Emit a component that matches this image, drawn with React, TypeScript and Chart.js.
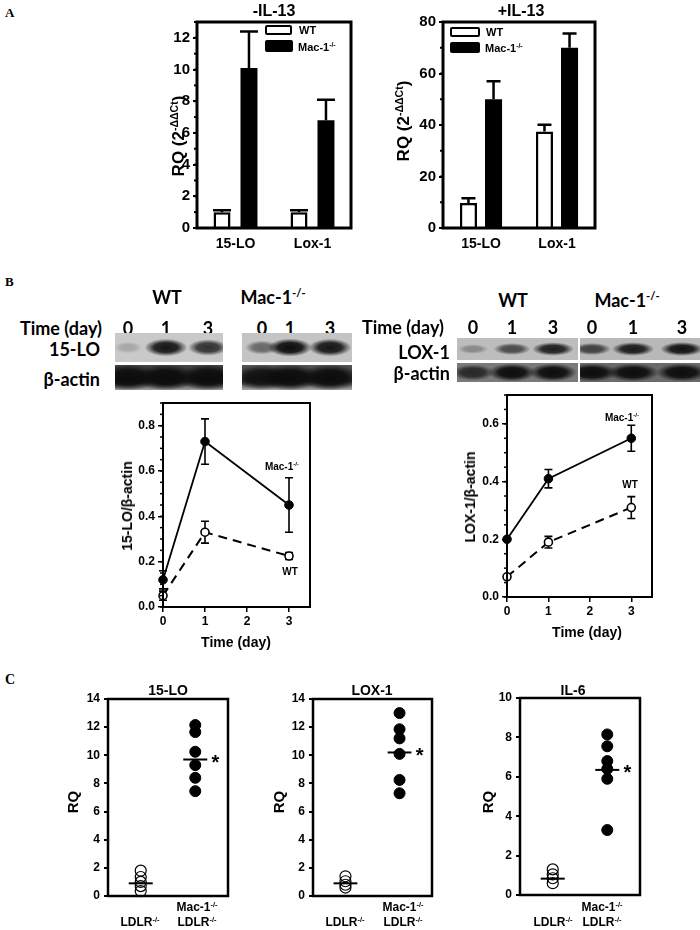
import React, { useEffect, useRef } from "react";
import { Chart, registerables } from "chart.js";

Chart.register(...registerables);

const FONT = "'Liberation Sans', Arial, sans-serif";
const BLOT_FONT = "Lato, 'Open Sans', sans-serif";
const SERIF = "'Liberation Serif', 'Times New Roman', serif";

// ---------- Panel A data ----------
const genes = ["15-LO", "Lox-1"];
const wtNoIL13 = [1.0, 1.0];
const wtNoIL13Err = [0.12, 0.12];
const macNoIL13 = [10.1, 6.8];
const macNoIL13Err = [2.3, 1.3];
const wtIL13 = [9.7, 37.5];
const wtIL13Err = [1.9, 2.6];
const macIL13 = [50, 70];
const macIL13Err = [7, 5.5];

// ---------- Panel B data ----------
const days = [0, 1, 3];
const blotDays = ["0", "1", "3"];
const wt15LO = [0.05, 0.33, 0.225];
const wt15LOErr = [0.02, 0.048, 0.015];
const mac15LO = [0.12, 0.73, 0.45];
const mac15LOErr = [0.04, 0.1, 0.12];
const wtLOX1 = [0.07, 0.19, 0.31];
const wtLOX1Err = [0, 0.02, 0.038];
const macLOX1 = [0.2, 0.41, 0.55];
const macLOX1Err = [0, 0.032, 0.045];
// blot band intensities (0..1) per lane
const blot15LO_WT = [0.18, 0.95, 0.8];
const blot15LO_Mac = [0.5, 1.0, 0.95];
const blotActin_15LO_WT = [1, 1, 1];
const blotActin_15LO_Mac = [0.9, 1, 1];
const blotLOX1_WT = [0.3, 0.65, 0.9];
const blotLOX1_Mac = [0.7, 0.92, 0.97];
const blotActin_LOX1_WT = [0.75, 1, 1];
const blotActin_LOX1_Mac = [1, 1, 1];

// ---------- Panel C data ----------
const c15LO_ldlr = [1.8, 1.35, 1.0, 0.7, 0.35];
const c15LO_mac = [12.15, 11.65, 10.25, 9.3, 8.4, 7.45];
const c15LO_mean = [0.9, 9.7];
const cLOX1_ldlr = [1.4, 1.05, 0.8, 0.6];
const cLOX1_mac = [13.0, 11.85, 11.2, 10.1, 8.25, 7.3];
const cLOX1_mean = [0.9, 10.2];
const cIL6_ldlr = [1.3, 1.05, 0.85, 0.6];
const cIL6_mac = [8.15, 7.55, 6.8, 6.4, 5.9, 3.3];
const cIL6_mean = [0.83, 6.35];

// ---------- plugins ----------
const framePlugin = {
  id: "frame",
  afterDraw(chart: any, _a: any, opts: any) {
    const { ctx, chartArea: a } = chart;
    ctx.save();
    ctx.strokeStyle = "#000";
    ctx.lineWidth = opts.lineWidth || 2;
    ctx.strokeRect(a.left, a.top, a.right - a.left, a.bottom - a.top);
    if (opts.minorStep) {
      const ys = chart.scales.y;
      ctx.lineWidth = opts.minorWidth || 1.5;
      const n = Math.round((ys.max - ys.min) / opts.minorStep);
      for (let i = 0; i <= n; i++) {
        const p = ys.getPixelForValue(ys.min + i * opts.minorStep);
        ctx.beginPath();
        ctx.moveTo(a.left - opts.minorLen, p);
        ctx.lineTo(a.left, p);
        ctx.stroke();
      }
    }
    ctx.restore();
  },
};

const errPlugin = {
  id: "errbars",
  beforeDatasetsDraw(chart: any, _a: any, opts: any) {
    const ctx = chart.ctx;
    ctx.save();
    ctx.strokeStyle = "#000";
    ctx.lineWidth = opts.lineWidth || 1.5;
    chart.data.datasets.forEach((ds: any, di: number) => {
      if (!ds.errors) return;
      const meta = chart.getDatasetMeta(di);
      const ys = chart.scales[meta.yAxisID];
      meta.data.forEach((el: any, i: number) => {
        const e = ds.errors[i];
        if (!e) return;
        const raw = ds.data[i];
        const v = typeof raw === "number" ? raw : raw.y;
        const x = el.x;
        const up = ys.getPixelForValue(v + e);
        const lo = opts.both ? ys.getPixelForValue(v - e) : el.y;
        const c = opts.capHalf || 4;
        ctx.beginPath();
        ctx.moveTo(x, lo);
        ctx.lineTo(x, up);
        ctx.moveTo(x - c, up);
        ctx.lineTo(x + c, up);
        if (opts.both) {
          ctx.moveTo(x - c, lo);
          ctx.lineTo(x + c, lo);
        }
        ctx.stroke();
      });
    });
    ctx.restore();
  },
};

const marksPlugin = {
  id: "marks",
  afterDraw(chart: any, _a: any, opts: any) {
    if (!opts.items) return;
    const ctx = chart.ctx;
    ctx.save();
    ctx.fillStyle = "#000";
    ctx.textAlign = "center";
    ctx.textBaseline = "middle";
    opts.items.forEach((it: any) => {
      ctx.font = it.font;
      const x = chart.scales.x.getPixelForValue(it.xv) + it.dx;
      const y = chart.scales.y.getPixelForValue(it.yv) + it.dy;
      ctx.fillText(it.text, x, y);
    });
    ctx.restore();
  },
};

type Box = { l: number; t: number; w: number; h: number };
const PAD = { l: 50, r: 14, t: 14, b: 34 };

const fitY = (s: any) => {
  s.width = PAD.l;
};
const fitX = (s: any) => {
  s.height = PAD.b;
};

function base(plugins: any) {
  return {
    responsive: false,
    maintainAspectRatio: false,
    animation: false,
    devicePixelRatio: 1,
    layout: { padding: { left: 0, top: PAD.t, right: PAD.r, bottom: 0 } },
    plugins: {
      legend: { display: false },
      tooltip: { enabled: false },
      title: { display: false },
      ...plugins,
    },
  };
}

const tickFont = (size: number) => ({ family: FONT, size, weight: "bold" as const });

function barConfig(
  wt: number[],
  wtErr: number[],
  mac: number[],
  macErr: number[],
  yMax: number,
  step: number,
  minor: number,
  catPct: number,
  barPct: number,
  capHalf: number
) {
  return {
    type: "bar",
    data: {
      labels: genes,
      datasets: [
        {
          label: "WT",
          data: wt,
          errors: wtErr,
          backgroundColor: "#fff",
          borderColor: "#000",
          borderWidth: 2.5,
          borderSkipped: "bottom",
          categoryPercentage: catPct,
          barPercentage: barPct,
        },
        {
          label: "Mac-1-/-",
          data: mac,
          errors: macErr,
          backgroundColor: "#000",
          borderColor: "#000",
          borderWidth: 0,
          categoryPercentage: catPct,
          barPercentage: barPct,
        },
      ],
    },
    options: {
      ...base({
        frame: { lineWidth: 3, minorStep: minor, minorLen: 3, minorWidth: 2 },
        errbars: { lineWidth: 2.5, capHalf },
      }),
      scales: {
        x: {
          grid: { display: false, drawTicks: false },
          border: { display: false },
          ticks: { font: tickFont(14), color: "#000", padding: 8 },
          afterFit: fitX,
        },
        y: {
          min: 0,
          max: yMax,
          ticks: { stepSize: step, includeBounds: false, font: tickFont(15), color: "#000", padding: 3 },
          grid: { drawOnChartArea: false, color: "#000", lineWidth: 2, tickLength: 4 },
          border: { display: false },
          afterFit: fitY,
        },
      },
    },
    plugins: [framePlugin, errPlugin],
  };
}

function lineConfig(wt: number[], wtErr: number[], mac: number[], macErr: number[], yMax: number) {
  return {
    type: "line",
    data: {
      datasets: [
        {
          label: "Mac-1-/-",
          data: days.map((d, i) => ({ x: d, y: mac[i] })),
          errors: macErr,
          borderColor: "#000",
          borderWidth: 1.8,
          pointRadius: 4.3,
          pointBackgroundColor: "#000",
          pointBorderColor: "#000",
          pointBorderWidth: 1,
          tension: 0,
          clip: false,
        },
        {
          label: "WT",
          data: days.map((d, i) => ({ x: d, y: wt[i] })),
          errors: wtErr,
          borderColor: "#000",
          borderWidth: 2,
          borderDash: [9, 6],
          pointRadius: 4,
          pointBackgroundColor: "#fff",
          pointBorderColor: "#000",
          pointBorderWidth: 1.6,
          tension: 0,
          clip: false,
        },
      ],
    },
    options: {
      ...base({
        frame: { lineWidth: 2, minorStep: 0.05, minorLen: 3, minorWidth: 1.5 },
        errbars: { lineWidth: 1.6, capHalf: 4, both: true },
      }),
      scales: {
        x: {
          type: "linear",
          min: 0,
          max: 3.5,
          ticks: { stepSize: 1, includeBounds: false, font: tickFont(12), color: "#000", padding: 2 },
          grid: { drawOnChartArea: false, color: "#000", lineWidth: 1.5, tickLength: 5 },
          border: { display: false },
          afterFit: fitX,
        },
        y: {
          min: 0,
          max: yMax,
          ticks: {
            stepSize: 0.2,
            includeBounds: false,
            font: tickFont(12),
            color: "#000",
            padding: 3,
            callback: (v: any) => Number(v).toFixed(1),
          },
          grid: { drawOnChartArea: false, color: "#000", lineWidth: 1.5, tickLength: 5 },
          border: { display: false },
          afterFit: fitY,
        },
      },
    },
    plugins: [framePlugin, errPlugin],
  };
}

const MEAN_HALF = 0.22;

function dotConfig(ldlr: number[], mac: number[], means: number[], yMax: number) {
  return {
    type: "scatter",
    data: {
      datasets: [
        {
          data: [
            { x: -MEAN_HALF, y: means[0] },
            { x: MEAN_HALF, y: means[0] },
          ],
          showLine: true,
          borderColor: "#000",
          borderWidth: 2,
          pointRadius: 0,
        },
        {
          data: [
            { x: 1 - MEAN_HALF, y: means[1] },
            { x: 1 + MEAN_HALF, y: means[1] },
          ],
          showLine: true,
          borderColor: "#000",
          borderWidth: 2,
          pointRadius: 0,
        },
        {
          data: mac.map((v) => ({ x: 1, y: v })),
          pointRadius: 5.5,
          pointBackgroundColor: "#000",
          pointBorderColor: "#000",
          pointBorderWidth: 1,
          clip: false,
        },
        {
          data: ldlr.map((v) => ({ x: 0, y: v })),
          pointRadius: 5.5,
          pointBackgroundColor: "rgba(255,255,255,0)",
          pointBorderColor: "#000",
          pointBorderWidth: 1.2,
          clip: false,
        },
      ],
    },
    options: {
      ...base({
        frame: { lineWidth: 2.5 },
        marks: {
          items: [{ xv: 1, yv: means[1], dx: 20, dy: 4, text: "*", font: `bold 20px ${FONT}` }],
        },
      }),
      scales: {
        x: {
          type: "linear",
          min: -0.6,
          max: 1.6,
          ticks: { display: false },
          grid: { display: false, drawTicks: false },
          border: { display: false },
          afterFit: fitX,
        },
        y: {
          min: 0,
          max: yMax,
          ticks: { stepSize: 2, includeBounds: false, font: tickFont(12), color: "#000", padding: 4 },
          grid: { drawOnChartArea: false, color: "#000", lineWidth: 2, tickLength: 4 },
          border: { display: false },
          afterFit: fitY,
        },
      },
    },
    plugins: [framePlugin, marksPlugin],
  };
}

function ChartBox({ box, make }: { box: Box; make: () => any }) {
  const ref = useRef<HTMLCanvasElement>(null);
  const W = box.w + PAD.l + PAD.r;
  const H = box.h + PAD.t + PAD.b;
  useEffect(() => {
    const chart = new Chart(ref.current as HTMLCanvasElement, make());
    return () => chart.destroy();
  }, []);
  return (
    <canvas
      ref={ref}
      width={W}
      height={H}
      style={{ position: "absolute", left: box.l - PAD.l, top: box.t - PAD.t, width: W, height: H }}
    />
  );
}

function Sup({ children }: { children: any }) {
  return <span style={{ fontSize: "0.62em", position: "relative", top: "-0.6em" }}>{children}</span>;
}

function Txt({
  x,
  y,
  children,
  size = 12,
  weight = 700,
  family = FONT,
  align = "c",
  rotate = false,
}: {
  x: number;
  y: number;
  children: any;
  size?: number;
  weight?: number;
  family?: string;
  align?: "c" | "l" | "r";
  rotate?: boolean;
}) {
  const tx = align === "c" ? "-50%" : align === "r" ? "-100%" : "0";
  return (
    <div
      style={{
        position: "absolute",
        left: x,
        top: y,
        fontSize: size,
        fontWeight: weight,
        fontFamily: family,
        lineHeight: 1,
        whiteSpace: "nowrap",
        color: "#000",
        transform: rotate ? "translate(-50%,-50%) rotate(-90deg)" : `translate(${tx},-50%)`,
      }}
    >
      {children}
    </div>
  );
}

function Strip({
  l,
  t,
  w,
  h,
  lanes,
  ints,
  bg,
  bw,
  bh,
}: {
  l: number;
  t: number;
  w: number;
  h: number;
  lanes: number[];
  ints: number[];
  bg: string;
  bw: number;
  bh: number;
}) {
  const layers = lanes.map((x, i) => {
    const a = ints[i];
    const rx = bw * (0.55 + 0.45 * a);
    const ry = bh * (0.55 + 0.45 * a);
    return `radial-gradient(ellipse ${rx}px ${ry}px at ${x - l}px ${h / 2}px, rgba(12,12,12,${a}) 0%, rgba(12,12,12,${a * 0.9}) 55%, rgba(12,12,12,0) 100%)`;
  });
  return (
    <div
      style={{ position: "absolute", left: l, top: t, width: w, height: h, background: [...layers, bg].join(",") }}
    />
  );
}

function LegendBox({ l, t, w, h, filled }: { l: number; t: number; w: number; h: number; filled: boolean }) {
  return (
    <div
      style={{
        position: "absolute",
        left: l,
        top: t,
        width: w,
        height: h,
        boxSizing: "border-box",
        border: "2.5px solid #000",
        borderRadius: 2,
        background: filled ? "#000" : "#fff",
      }}
    />
  );
}

const laneL = [128, 166, 208];
const laneLM = [262, 290, 330];
const laneR = [473, 512, 553];
const laneRM = [592, 633, 682];

export default function App() {
  return (
    <div
      style={{
        position: "absolute",
        left: 0,
        top: 0,
        width: 700,
        height: 930,
        background: "#fff",
        overflow: "hidden",
        fontFamily: FONT,
      }}
    >
      {/* Panel letters */}
      <Txt x={5} y={12} size={13} family={SERIF} align="l">A</Txt>
      <Txt x={5} y={281} size={13} family={SERIF} align="l">B</Txt>
      <Txt x={5} y={680} size={14} family={SERIF} align="l">C</Txt>

      {/* ---------- Panel A ---------- */}
      <ChartBox
        box={{ l: 197, t: 22, w: 154, h: 206 }}
        make={() => barConfig(wtNoIL13, wtNoIL13Err, macNoIL13, macNoIL13Err, 13, 2, 1, 0.7, 0.63, 9)}
      />
      <ChartBox
        box={{ l: 443, t: 22, w: 152, h: 206 }}
        make={() => barConfig(wtIL13, wtIL13Err, macIL13, macIL13Err, 80, 20, 10, 0.66, 0.68, 7)}
      />
      <Txt x={274} y={11} size={16}>-IL-13</Txt>
      <Txt x={521} y={11} size={16}>+IL-13</Txt>
      <Txt x={178} y={136} size={17} rotate>
        RQ (2<Sup>-ΔΔCt</Sup>)
      </Txt>
      <Txt x={403} y={121} size={17} rotate>
        RQ (2<Sup>-ΔΔCt</Sup>)
      </Txt>
      <LegendBox l={265} t={25} w={27} h={10} filled={false} />
      <LegendBox l={265} t={40} w={28} h={12} filled={true} />
      <Txt x={299} y={30} size={11} align="l">WT</Txt>
      <Txt x={298} y={47} size={11} align="l">
        Mac-1<Sup>-/-</Sup>
      </Txt>
      <LegendBox l={450} t={27} w={30} h={10} filled={false} />
      <LegendBox l={450} t={42} w={30} h={11} filled={true} />
      <Txt x={486} y={32} size={11} align="l">WT</Txt>
      <Txt x={485} y={48} size={11} align="l">
        Mac-1<Sup>-/-</Sup>
      </Txt>

      {/* ---------- Panel B blots ---------- */}
      <Txt x={167} y={297} size={18} family={BLOT_FONT}>WT</Txt>
      <Txt x={273} y={297} size={18} family={BLOT_FONT}>
        Mac-1<Sup>-/-</Sup>
      </Txt>
      <Txt x={20} y={328} size={18} family={BLOT_FONT} align="l">Time (day)</Txt>
      {[...laneL, ...laneLM].map((x, i) => (
        <Txt key={"ld" + i} x={x} y={328} size={18} family={BLOT_FONT}>
          {blotDays[i % 3]}
        </Txt>
      ))}
      <Txt x={100} y={349} size={18} family={BLOT_FONT} align="r">15-LO</Txt>
      <Txt x={100} y={379} size={18} family={BLOT_FONT} align="r">β-actin</Txt>
      <Strip l={115} t={333} w={108} h={29} lanes={laneL} ints={blot15LO_WT} bg="#c9c9c9" bw={22} bh={9} />
      <Strip l={242} t={333} w={110} h={29} lanes={laneLM} ints={blot15LO_Mac} bg="#c4c4c4" bw={22} bh={9} />
      <Strip
        l={115}
        t={365}
        w={108}
        h={25}
        lanes={laneL}
        ints={blotActin_15LO_WT}
        bg="linear-gradient(#444, #2a2a2a 65%, #a0a0a0)"
        bw={30}
        bh={13}
      />
      <Strip
        l={242}
        t={365}
        w={110}
        h={25}
        lanes={laneLM}
        ints={blotActin_15LO_Mac}
        bg="linear-gradient(#555, #333 65%, #a8a8a8)"
        bw={30}
        bh={13}
      />

      <Txt x={513} y={300} size={18} family={BLOT_FONT}>WT</Txt>
      <Txt x={627} y={300} size={18} family={BLOT_FONT}>
        Mac-1<Sup>-/-</Sup>
      </Txt>
      <Txt x={362} y={327} size={18} family={BLOT_FONT} align="l">Time (day)</Txt>
      {[...laneR, ...laneRM].map((x, i) => (
        <Txt key={"rd" + i} x={x} y={327} size={18} family={BLOT_FONT}>
          {blotDays[i % 3]}
        </Txt>
      ))}
      <Txt x={450} y={352} size={18} family={BLOT_FONT} align="r">LOX-1</Txt>
      <Txt x={450} y={373} size={18} family={BLOT_FONT} align="r">β-actin</Txt>
      <Strip l={457} t={338} w={121} h={22} lanes={laneR} ints={blotLOX1_WT} bg="#bdbdbd" bw={22} bh={7} />
      <Strip l={580} t={338} w={120} h={22} lanes={laneRM} ints={blotLOX1_Mac} bg="#b8b8b8" bw={22} bh={7} />
      <Strip l={457} t={363} w={121} h={19} lanes={laneR} ints={blotActin_LOX1_WT} bg="#7a7a7a" bw={24} bh={9} />
      <Strip l={580} t={363} w={120} h={19} lanes={laneRM} ints={blotActin_LOX1_Mac} bg="#6a6a6a" bw={26} bh={9} />

      {/* ---------- Panel B line charts ---------- */}
      <ChartBox
        box={{ l: 163, t: 403, w: 147, h: 204 }}
        make={() => lineConfig(wt15LO, wt15LOErr, mac15LO, mac15LOErr, 0.9)}
      />
      <ChartBox
        box={{ l: 507, t: 395, w: 145, h: 202 }}
        make={() => lineConfig(wtLOX1, wtLOX1Err, macLOX1, macLOX1Err, 0.7)}
      />
      <Txt x={127} y={506} size={14} rotate>15-LO/β-actin</Txt>
      <Txt x={470} y={497} size={14} rotate>LOX-1/β-actin</Txt>
      <Txt x={236} y={642} size={14}>Time (day)</Txt>
      <Txt x={587} y={632} size={14}>Time (day)</Txt>
      <Txt x={282} y={467} size={10}>
        Mac-1<Sup>-/-</Sup>
      </Txt>
      <Txt x={290} y={572} size={10}>WT</Txt>
      <Txt x={622} y={418} size={10}>
        Mac-1<Sup>-/-</Sup>
      </Txt>
      <Txt x={630} y={485} size={10}>WT</Txt>

      {/* ---------- Panel C ---------- */}
      <ChartBox box={{ l: 108, t: 699, w: 120, h: 197 }} make={() => dotConfig(c15LO_ldlr, c15LO_mac, c15LO_mean, 14)} />
      <ChartBox box={{ l: 313, t: 699, w: 119, h: 197 }} make={() => dotConfig(cLOX1_ldlr, cLOX1_mac, cLOX1_mean, 14)} />
      <ChartBox box={{ l: 520, t: 698, w: 120, h: 197 }} make={() => dotConfig(cIL6_ldlr, cIL6_mac, cIL6_mean, 10)} />
      <Txt x={168} y={690} size={14}>15-LO</Txt>
      <Txt x={372} y={690} size={14}>LOX-1</Txt>
      <Txt x={573} y={690} size={14}>IL-6</Txt>
      <Txt x={72} y={802} size={15} rotate>RQ</Txt>
      <Txt x={278} y={802} size={15} rotate>RQ</Txt>
      <Txt x={487} y={802} size={15} rotate>RQ</Txt>
      {[
        [140, 197],
        [345, 403],
        [553, 602],
      ].map(([a, b], i) => (
        <React.Fragment key={"cx" + i}>
          <Txt x={a} y={922} size={12}>
            LDLR<Sup>-/-</Sup>
          </Txt>
          <Txt x={b} y={907} size={12}>
            Mac-1<Sup>-/-</Sup>
          </Txt>
          <Txt x={b} y={922} size={12}>
            LDLR<Sup>-/-</Sup>
          </Txt>
        </React.Fragment>
      ))}
    </div>
  );
}
